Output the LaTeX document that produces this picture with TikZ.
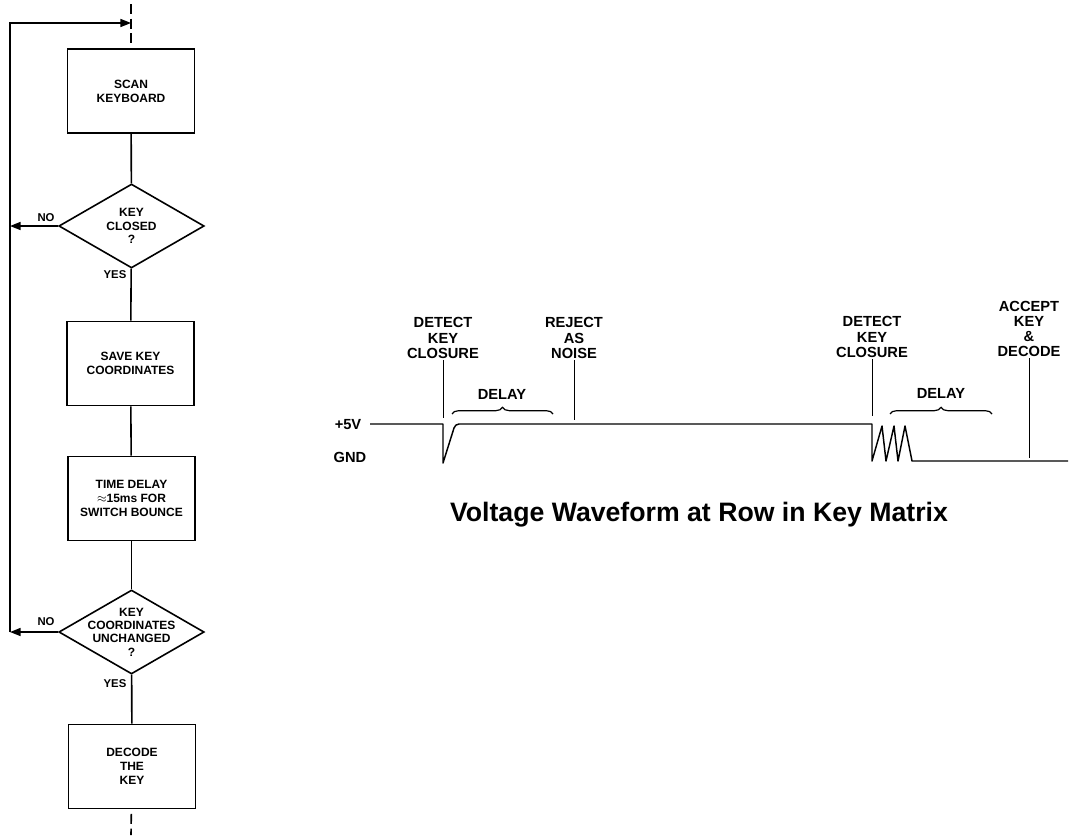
\documentclass[tikz,border=0pt]{standalone}
\usepackage{fontspec}
\setmainfont{Liberation Sans}
\usetikzlibrary{shapes.geometric,arrows.meta,decorations.pathreplacing}
\begin{document}
\begin{tikzpicture}[
	  x=0.75pt, y=-0.75pt,
	  proc/.style={draw, line width=1.2pt, rectangle, minimum width=95pt, minimum height=63pt,
	    inner sep=0pt, align=center, font=\fontsize{9}{10.5}\selectfont\bfseries},
	  decide/.style={draw, line width=1.2pt, diamond, minimum width=109pt, minimum height=63pt, inner sep=0pt},
	  quest/.style={align=center, inner sep=0pt, font=\fontsize{9}{10}\selectfont\bfseries},
	  flow/.style={line width=1.2pt},
	  back/.style={line width=1.2pt, -{Triangle[length=8pt,width=6pt]}},
	  cont/.style={line width=1.2pt, dash pattern=on 7.5pt off 3.5pt},
	  ans/.style={font=\fontsize{8.5}{9}\selectfont\bfseries, inner sep=0pt},
	  tag/.style={align=center, inner sep=1pt, font=\fontsize{11}{11.3}\selectfont\bfseries},
	  wave/.style={line width=1.1pt, line join=round},
	  markerline/.style={line width=0.7pt},
	  delaybrace/.style={decorate, decoration={brace, amplitude=5pt}, line width=0.9pt}]
	  \useasboundingbox (0,0) rectangle (1073,835);
	  \node[proc] (scan) at (131,91) {SCAN\\KEYBOARD};
	  \node[decide, label={[quest]center:{KEY\\CLOSED\\?}}] (closed) at (131.5,226) {};
	  \node[proc] (save) at (130.5,363.5) {SAVE KEY\\COORDINATES};
	  \node[proc] (wait) at (131.5,498.5) {TIME DELAY\\\(\approx\)15ms FOR\\SWITCH BOUNCE};
	  \node[decide, label={[quest]center:{KEY\\COORDINATES\\UNCHANGED\\?}}] (same) at (131.5,632) {};
	  \node[proc] (decode) at (132,766.5) {DECODE\\THE\\KEY};
	  \coordinate (top) at (131,4);
	  \coordinate (entry) at (131,23);
	  \coordinate (looptop) at (10,23);
	  \coordinate (loopbot) at (10,632);
	  \coordinate (bottom) at (131,835);
	  \draw[cont] (top) -- (scan);
	  \draw[back] (loopbot) -- (looptop) -- (entry);
	  \draw[flow] (scan) -- (closed);
	  \draw[flow] (closed) -- (save);
	  \draw[flow] (save) -- (wait);
	  \draw[flow] (wait) -- (same);
	  \draw[flow] (same) -- (decode);
	  \draw[back] (closed.west) -- (closed.west -| loopbot);
	  \draw[back] (same.west) -- (loopbot);
	  \draw[cont, dash phase=7.5pt] (decode) -- (bottom);
	  \node[ans] (no1) at (46,218) {NO};
	  \node[ans] (yes1) at (115,275) {YES};
	  \node[ans] (no2) at (46,622) {NO};
	  \node[ans] (yes2) at (115,684) {YES};
	  \node[tag] (high) at (348,425) {+5V};
	  \node[tag] (low) at (350,457) {GND};
	  \draw[wave] (370,424) -- (443,424) -- (443,463) -- (454,428) to[out=70, in=180] (459,424) -- (872,424)
	    -- (872,461) -- (882,426) -- (886,461) -- (894,426) -- (898,461) -- (905,426) -- (912,461) -- (1068,461);
	  \node[tag] (detect1) at (443,338) {DETECT\\KEY\\CLOSURE};
	  \node[tag] (reject) at (574,338) {REJECT\\AS\\NOISE};
	  \node[tag] (detect2) at (872,337) {DETECT\\KEY\\CLOSURE};
	  \node[tag] (accept) at (1029,329) {ACCEPT\\KEY\\\&\\DECODE};
	  \coordinate (foot1) at (443,418);
	  \coordinate (foot2) at (574,420);
	  \coordinate (foot3) at (872,416);
	  \coordinate (foot4) at (1029,458);
	  \draw[markerline] (detect1) -- (foot1);
	  \draw[markerline] (reject) -- (foot2);
	  \draw[markerline] (detect2) -- (foot3);
	  \draw[markerline] (accept) -- (foot4);
	  \node[tag] (delay1) at (502,394) {DELAY};
	  \node[tag] (delay2) at (941,393) {DELAY};
	  \draw[delaybrace] (452,414) -- (553,414);
	  \draw[delaybrace] (890,414) -- (992,414);
	  \node[font=\fontsize{20}{23}\selectfont\bfseries] (caption) at (699,515) {Voltage Waveform at Row in Key Matrix};
	\end{tikzpicture}
\end{document}
